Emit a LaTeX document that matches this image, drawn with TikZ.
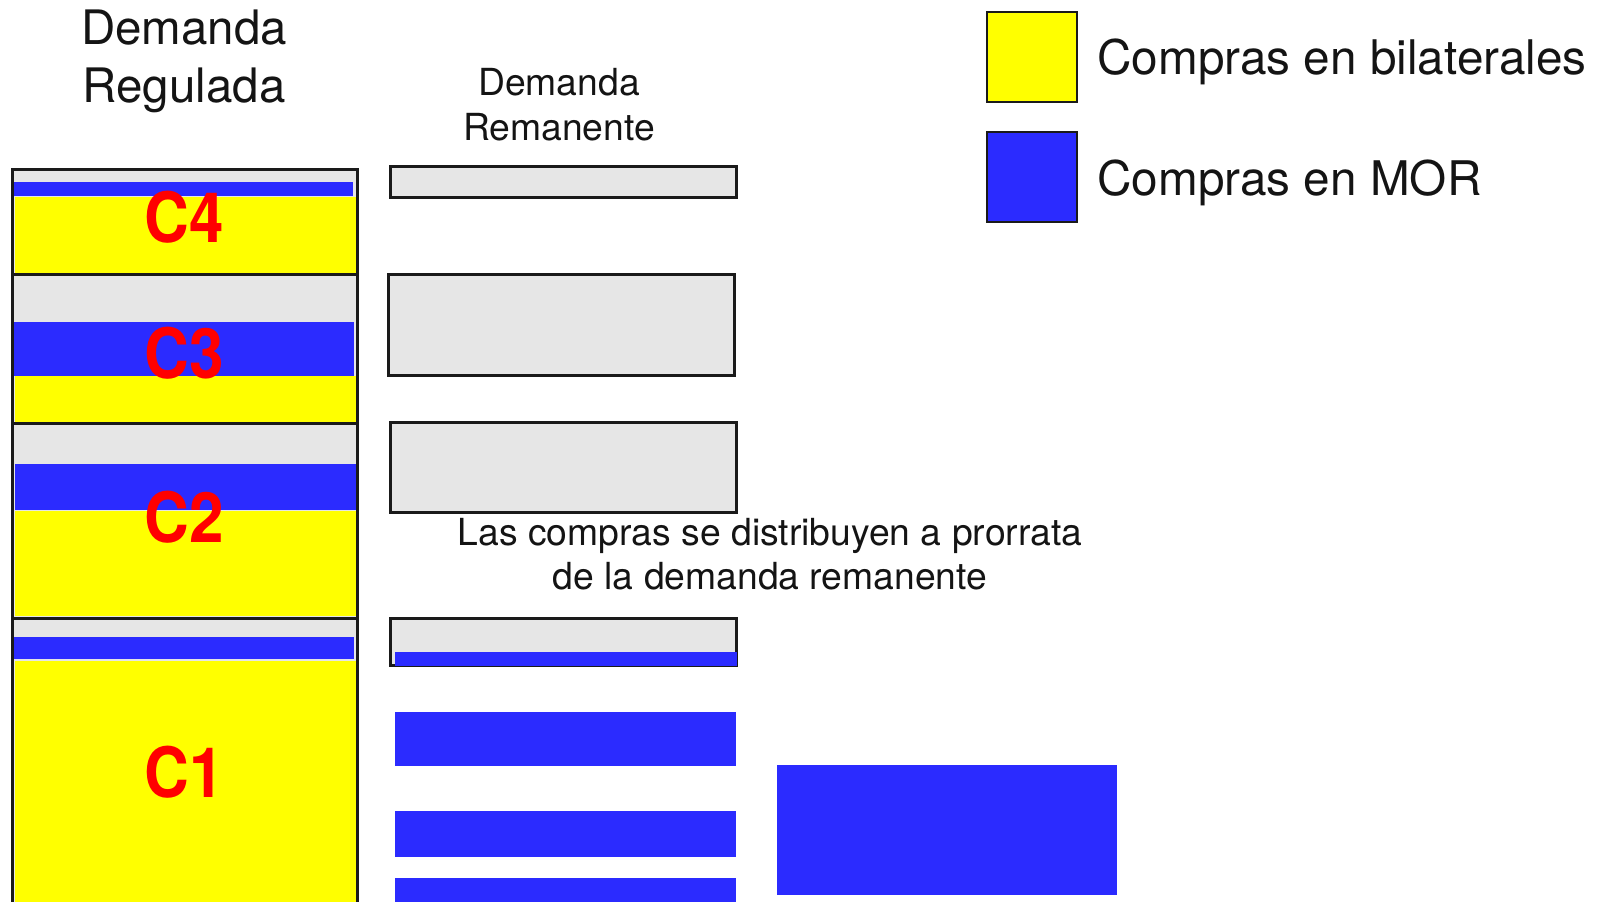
\documentclass[tikz,border=0pt]{standalone}
\usepackage{fontspec}
\setmainfont{TeX Gyre Heros}
\definecolor{myyellow}{HTML}{FFFF00}
\definecolor{myblue}{HTML}{2B2BFF}
\definecolor{mygrey}{HTML}{E6E6E6}
\definecolor{myborder}{HTML}{1A1A1A}
\definecolor{mytext}{HTML}{141414}
\begin{document}
\begin{tikzpicture}[x=1bp,y=-1bp,
  frame/.style={draw=myborder,line width=3bp},
  greyfill/.style={fill=mygrey},
  bluefill/.style={fill=myblue},
  yellowfill/.style={fill=myyellow},
  legbox/.style={draw=myborder,line width=1.5bp},
  bigtext/.style={font=\fontsize{47.5bp}{53bp}\selectfont,text=mytext,inner sep=0pt,anchor=base},
  legtext/.style={font=\fontsize{47.7bp}{55bp}\selectfont,text=mytext,inner sep=0pt,anchor=base west},
  midtext/.style={font=\fontsize{37.3bp}{44bp}\selectfont,text=mytext,inner sep=0pt,anchor=base},
  clabel/.style={font=\fontsize{62bp}{66bp}\selectfont\bfseries,text=red,inner sep=0pt,anchor=base}]
\useasboundingbox (0,0) rectangle (1597,901);
% ---------- left column: Demanda Regulada ----------
% C4
\fill[greyfill] (12,169) rectangle (357,274);
\fill[bluefill] (12,182) rectangle (353,196);
\fill[yellowfill] (15,197) rectangle (356,273);
% C3
\fill[greyfill] (12,274) rectangle (357,423);
\fill[bluefill] (13,322) rectangle (354,376);
\fill[yellowfill] (15,376) rectangle (356,422);
% C2
\fill[greyfill] (12,423) rectangle (357,618);
\fill[bluefill] (15,464) rectangle (356,510);
\fill[yellowfill] (15,511) rectangle (356,616);
% C1
\fill[greyfill] (12,618) rectangle (357,910);
\fill[bluefill] (13,637) rectangle (354,659);
\fill[yellowfill] (15,661) rectangle (356,910);
% frames
\draw[frame] (12,169) rectangle (357,274);
\draw[frame] (12,274) rectangle (357,423);
\draw[frame] (12,423) rectangle (357,618);
\draw[frame] (12,618) rectangle (357,920);
% labels
\node[clabel] (c4) at (184.5,242) {\scalebox{1}[1.12]{C4}};
\node[clabel] (c3) at (184.5,378) {\scalebox{1}[1.12]{C3}};
\node[clabel] (c2) at (184.5,542) {\scalebox{1}[1.12]{C2}};
\node[clabel] (c1) at (184,797) {\scalebox{1}[1.12]{C1}};
% titles
\node[bigtext] (dr1) at (184,44) {Demanda};
\node[bigtext] (dr2) at (184,102) {Regulada};
\node[midtext] (dm1) at (559,95) {Demanda};
\node[midtext] (dm2) at (559,140) {Remanente};
% ---------- middle column: Demanda Remanente ----------
\draw[frame,greyfill] (390,166) rectangle (736,197);
\draw[frame,greyfill] (388,274) rectangle (734,375);
\draw[frame,greyfill] (390,422) rectangle (736,512);
\draw[frame,greyfill] (390,618) rectangle (736,665);
\fill[bluefill] (395,652) rectangle (737,666);
\fill[bluefill] (395,712) rectangle (736,766);
\fill[bluefill] (395,811) rectangle (736,857);
\fill[bluefill] (395,878) rectangle (736,910);
\fill[bluefill] (777,765) rectangle (1117,895);
% note
\node[midtext] (n1) at (770,545) {Las compras se distribuyen a prorrata};
\node[midtext] (n2) at (770,589) {de la demanda remanente};
% ---------- legend ----------
\draw[legbox,yellowfill] (987,12) rectangle (1077,102);
\draw[legbox,bluefill] (987,132) rectangle (1077,222);
\node[legtext] (l1) at (1097,74) {Compras en bilaterales};
\node[legtext] (l2) at (1097,195) {Compras en MOR};
\end{tikzpicture}
\end{document}
